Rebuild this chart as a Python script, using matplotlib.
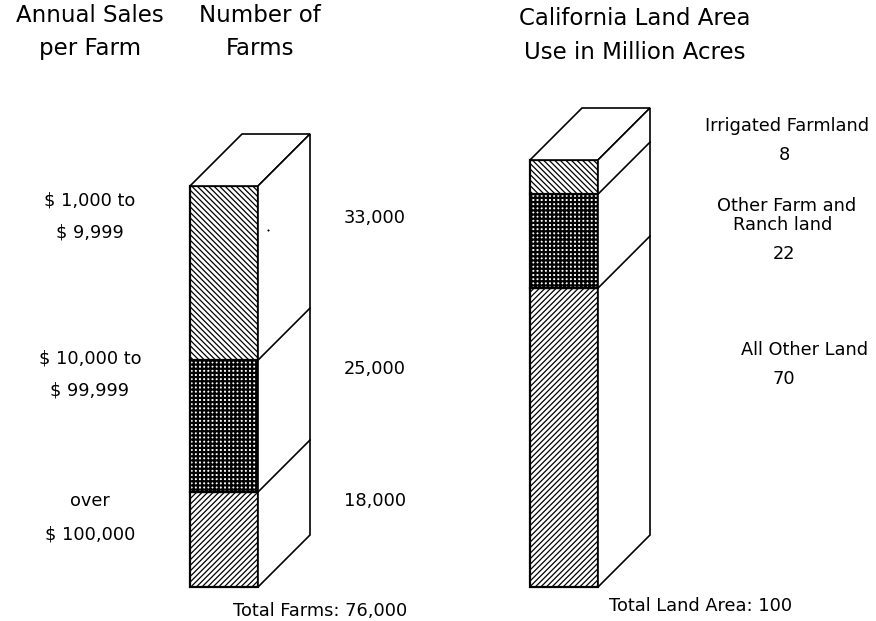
import sys

import matplotlib
matplotlib.use("Agg")
import matplotlib.pyplot as plt
from matplotlib.patches import Polygon

farm_segments = [18, 25, 33]
farm_labels = ["18,000", "25,000", "33,000"]
land_segments = [70, 22, 8]
land_values = ["70", "22", "8"]
segment_hatches = ["//////", "++++", "\\\\\\\\\\\\"]
hatch_widths = [0.9, 1.6, 0.9]

W, H = 876, 621


def draw_column(fig, left, top, bottom, values):
    # column box in pixels: front face is 68 wide, depth goes 52 up and right
    total = sum(values)
    front_h = bottom - top
    ax = fig.add_axes([left / W, 1 - bottom / H, 120 / W, (front_h + 52) / H])
    ax.set_xlim(0, 120)
    ax.set_ylim(0, total * (front_h + 52) / front_h)
    ax.axis("off")
    depth = total * 52 / front_h

    base = 0
    for value, hatch, hatch_w in zip(values, segment_hatches, hatch_widths):
        plt.rcParams["hatch.linewidth"] = hatch_w
        ax.bar(34, value, width=68, bottom=base, facecolor="white", edgecolor="black",
               hatch=hatch, linewidth=1.6, clip_on=False)
        base += value

    ax.add_patch(Polygon([(0, total), (52, total + depth), (120, total + depth), (68, total)],
                         closed=True, facecolor="white", edgecolor="black", linewidth=1.2, clip_on=False))
    ax.add_patch(Polygon([(68, 0), (120, depth), (120, total + depth), (68, total)],
                         closed=True, facecolor="white", edgecolor="black", linewidth=1.2, clip_on=False))
    base = 0
    for value in values[:-1]:
        base += value
        ax.plot([68, 120], [base, base + depth], color="black", linewidth=1.2, clip_on=False)


def main() -> int:
    fig = plt.figure(figsize=(W / 100, H / 100), dpi=100)

    draw_column(fig, 190, 186, 587, farm_segments)
    draw_column(fig, 530, 160, 587, land_segments)

    # overlay in pixel coordinates for the text
    tx = fig.add_axes([0, 0, 1, 1])
    tx.set_xlim(0, W)
    tx.set_ylim(H, 0)
    tx.axis("off")
    tx.patch.set_alpha(0)

    def label(x, y, s, size=12.8):
        tx.text(x, y, s, ha="center", va="baseline", fontsize=size, color="black")

    def title(x, y, s):
        label(x, y, s, 16.5)

    title(90, 22, "Annual Sales")
    title(90, 55, "per Farm")
    title(260, 22, "Number of")
    title(260, 55, "Farms")
    title(635, 25, "California Land Area")
    title(635, 59, "Use in Million Acres")

    label(90, 205, "$ 1,000 to")
    label(90, 238, "$ 9,999")
    label(90, 363, "$ 10,000 to")
    label(90, 396, "$ 99,999")
    label(90, 506, "over")
    label(90, 539, "$ 100,000")

    label(375, 223, farm_labels[2])
    label(375, 374, farm_labels[1])
    label(375, 506, farm_labels[0])
    label(320, 616, "Total Farms: 76,000")

    label(787, 131, "Irrigated Farmland")
    label(784, 160, land_values[2])
    label(787, 211, "Other Farm and")
    label(783, 230, "Ranch land")
    label(784, 259, land_values[1])
    label(805, 355, "All Other Land")
    label(784, 384, land_values[0])
    label(701, 611, "Total Land Area: 100")

    # stray speck on the original page
    tx.plot([268], [230], marker="s", markersize=0.5, color="black")

    fig.savefig("out.png", dpi=100)
    return 0


if __name__ == "__main__":
    sys.exit(main())
